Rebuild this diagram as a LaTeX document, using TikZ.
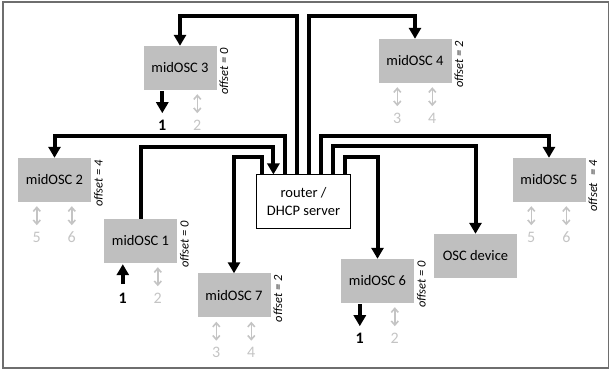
\documentclass[tikz,border=0pt]{standalone}
\usepackage{fontspec}
\setmainfont{Carlito}
\usetikzlibrary{arrows.meta}
\definecolor{boxgray}{RGB}{191,191,191}
\definecolor{portgray}{RGB}{196,196,196}
\definecolor{framegray}{RGB}{110,110,110}
\tikzset{
  device/.style={rectangle, fill=boxgray, minimum width=73pt, minimum height=44pt,
    inner sep=0pt, font=\fontsize{14.5}{16}\selectfont},
  routerbox/.style={rectangle, draw=black, line width=1pt, fill=white,
    minimum width=94pt, minimum height=54pt, inner sep=0pt, align=center,
    font=\fontsize{14.5}{18}\selectfont},
  link/.style={line width=4pt, -{Triangle[width=12pt,length=11pt]}},
  bigport/.style={line width=4pt, -{Triangle[width=12pt,length=11pt]}},
  port/.style={portgray, line width=1.6pt, {Straight Barb[width=7pt,length=4pt]}-{Straight Barb[width=7pt,length=4pt]}},
  portnum/.style={text=portgray, inner sep=0pt, font=\fontsize{16}{18}\selectfont},
  portone/.style={text=black, inner sep=0pt, font=\fontsize{16}{18}\selectfont\bfseries},
  offsetlabel/.style={rotate=90, anchor=north east, inner sep=0pt,
    font=\fontsize{12.5}{14}\selectfont\itshape},
}
\begin{document}
\begin{tikzpicture}[x=1pt,y=-1pt]
  \useasboundingbox (0,0) rectangle (611,371);
  % outer frame
  \draw[framegray, line width=1.2pt] (3,2) rectangle (608.5,368);

  % network nodes
  \node[routerbox] (router) at (303.5,202) {router /\\DHCP server};
  \node[device] (m3) at (180,68) {midOSC 3};
  \node[device] (m4) at (415,61) {midOSC 4};
  \node[device] (m2) at (54.5,180) {midOSC 2};
  \node[device] (m5) at (549,180) {midOSC 5};
  \node[device] (m1) at (140.5,241) {midOSC 1};
  \node[device] (m7) at (234,295.5) {midOSC 7};
  \node[device] (m6) at (377.5,281) {midOSC 6};
  \node[device, minimum width=83pt] (osc) at (475.5,256) {OSC device};

  % offset labels
  \node[offsetlabel] (o3) at ([shift={(2.5,2)}]m3.north east) {offset = 0};
  \node[offsetlabel] (o4) at ([shift={(2.5,2)}]m4.north east) {offset = 2};
  \node[offsetlabel] (o2) at ([shift={(2.5,2)}]m2.north east) {offset = 4};
  \node[offsetlabel] (o5) at ([shift={(2.5,2)}]m5.north east) {offset\hspace{0.6em}= 4};
  \node[offsetlabel] (o1) at ([shift={(2.5,2)}]m1.north east) {offset = 0};
  \node[offsetlabel] (o7) at ([shift={(2.5,2)}]m7.north east) {offset = 2};
  \node[offsetlabel] (o6) at ([shift={(2.5,2)}]m6.north east) {offset = 0};

  % cabling from the router
  \draw[link] ([xshift=5.5pt]router.north west) -- ++(0,-17) -| (m7.north);
  \draw[link] (m1.north) -- ++(0,-72) -| ([xshift=17.4pt]router.north west);
  \draw[link] ([xshift=29.2pt]router.north west) -- ++(0,-38) -| (m2.north);
  \draw[link] ([xshift=41.1pt]router.north west) -- ++(0,-158) -| (m3.north);
  \draw[link] ([xshift=52.9pt]router.north west) -- ++(0,-158) -| (m4.north);
  \draw[link] ([xshift=64.8pt]router.north west) -- ++(0,-38) -| (m5.north);
  \draw[link] ([xshift=76.7pt]router.north west) -- ++(0,-28) -| (osc.north);
  \draw[link] ([xshift=88.5pt]router.north west) -- ++(0,-17) -| (m6.north);

  % port numbers
  \node[portone] (m3a) at ([shift={(19,35)}]m3.south west) {1};
  \node[portnum] (m3b) at ([shift={(54,35)}]m3.south west) {2};
  \node[portnum] (m4a) at ([shift={(19,35)}]m4.south west) {3};
  \node[portnum] (m4b) at ([shift={(54,35)}]m4.south west) {4};
  \node[portnum] (m2a) at ([shift={(19,35)}]m2.south west) {5};
  \node[portnum] (m2b) at ([shift={(54,35)}]m2.south west) {6};
  \node[portnum] (m5a) at ([shift={(19,35)}]m5.south west) {5};
  \node[portnum] (m5b) at ([shift={(54,35)}]m5.south west) {6};
  \node[portone] (m1a) at ([shift={(19,35)}]m1.south west) {1};
  \node[portnum] (m1b) at ([shift={(54,35)}]m1.south west) {2};
  \node[portnum] (m7a) at ([shift={(19,35)}]m7.south west) {3};
  \node[portnum] (m7b) at ([shift={(54,35)}]m7.south west) {4};
  \node[portone] (m6a) at ([shift={(19,35)}]m6.south west) {1};
  \node[portnum] (m6b) at ([shift={(54,35)}]m6.south west) {2};

  % port arrows
  \draw[bigport] ([yshift=-1pt]m3a.center |- m3.south) -- ([yshift=12pt]m3a.center);
  \draw[port] ([yshift=-4pt]m3b.center |- m3.south) -- ([yshift=12pt]m3b.center);
  \draw[port] ([yshift=-4pt]m4a.center |- m4.south) -- ([yshift=12pt]m4a.center);
  \draw[port] ([yshift=-4pt]m4b.center |- m4.south) -- ([yshift=12pt]m4b.center);
  \draw[port] ([yshift=-4pt]m2a.center |- m2.south) -- ([yshift=12pt]m2a.center);
  \draw[port] ([yshift=-4pt]m2b.center |- m2.south) -- ([yshift=12pt]m2b.center);
  \draw[port] ([yshift=-4pt]m5a.center |- m5.south) -- ([yshift=12pt]m5a.center);
  \draw[port] ([yshift=-4pt]m5b.center |- m5.south) -- ([yshift=12pt]m5b.center);
  \draw[bigport] ([yshift=14pt]m1a.center) -- ([yshift=-1pt]m1a.center |- m1.south);
  \draw[port] ([yshift=-4pt]m1b.center |- m1.south) -- ([yshift=12pt]m1b.center);
  \draw[port] ([yshift=-4pt]m7a.center |- m7.south) -- ([yshift=12pt]m7a.center);
  \draw[port] ([yshift=-4pt]m7b.center |- m7.south) -- ([yshift=12pt]m7b.center);
  \draw[bigport] ([yshift=-1pt]m6a.center |- m6.south) -- ([yshift=12pt]m6a.center);
  \draw[port] ([yshift=-4pt]m6b.center |- m6.south) -- ([yshift=12pt]m6b.center);
\end{tikzpicture}
\end{document}
